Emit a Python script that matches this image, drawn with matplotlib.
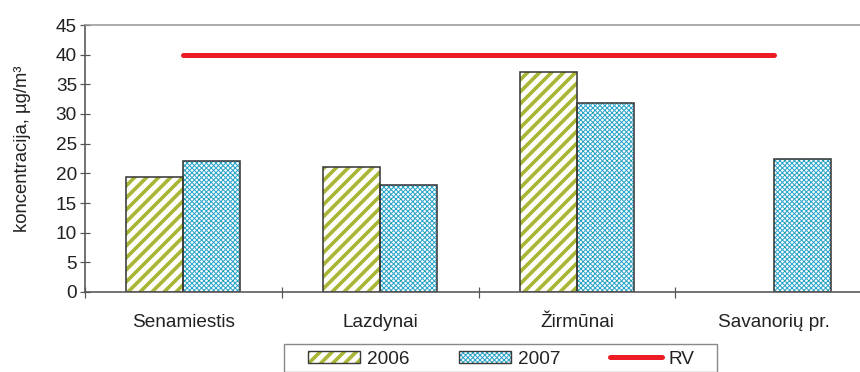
import numpy as np
import matplotlib
matplotlib.use("Agg")
import matplotlib.pyplot as plt
from matplotlib.patches import Patch, Rectangle
from matplotlib.lines import Line2D

# Measured concentrations per monitoring station
stations = ["Senamiestis", "Lazdynai", "Žirmūnai", "Savanorių pr."]
values_2006 = [19.4, 21.0, 37.1, np.nan]
values_2007 = [22.0, 18.0, 31.9, 22.4]
limit_value = 40
series_labels = ["2006", "2007", "RV"]
y_ticks = [0, 5, 10, 15, 20, 25, 30, 35, 40, 45]
y_label = "koncentracija, µg/m³"

DPI = 72
FS = 19
plt.rcParams["font.family"] = ["Liberation Sans", "DejaVu Sans"]

fig = plt.figure(figsize=(860 / DPI, 372 / DPI), dpi=DPI)
ax = fig.add_axes([85 / 860, 1 - 292 / 372, 787 / 860, 267 / 372])

x = np.arange(len(stations))
w = 0.29
green = "#a9b534"
blue = "#2ba3c8"
edge = "#3a3a3a"
styles = [(green, "//", 3.6), (blue, "xxxxx", 1.0)]
hatch_widths = {h: lw for _, h, lw in styles}


def set_hlw(patch, hlw):
    if hasattr(patch, "set_hatch_linewidth"):
        patch.set_hatch_linewidth(hlw)
    else:
        patch._hatch_linewidth = hlw


def hatched_bars(pos, vals, color, hatch, hlw):
    # pattern fill first (hatch takes the edge colour), then a dark outline
    plt.rcParams["hatch.linewidth"] = hlw
    bars = ax.bar(pos, vals, w, facecolor="white", edgecolor=color,
                  linewidth=0, hatch=hatch, zorder=2)
    for b in bars:
        set_hlw(b, hlw)
    ax.bar(pos, vals, w, fill=False, edgecolor=edge, linewidth=1.6, zorder=2.5)


hatched_bars(x - w / 2, values_2006, *styles[0])
hatched_bars(x + w / 2, values_2007, *styles[1])

ax.plot(x, [limit_value] * len(x), color="#ed1c24", linewidth=5,
        solid_capstyle="round", zorder=3)

ax.set_xlim(-0.5, len(stations) - 0.5)
ax.set_ylim(0, 45)
ax.set_yticks(y_ticks)
ax.set_xticks(x)
ax.set_xticklabels(stations, fontsize=FS, color="#222222")
ax.set_xticks(np.arange(-0.5, len(stations)), minor=True)
ax.tick_params(axis="x", which="major", length=0, pad=22)
ax.tick_params(axis="x", which="minor", direction="inout", length=11,
               width=1.2, color="#555555")
ax.tick_params(axis="y", direction="inout", length=10, width=1.2,
               color="#555555", labelsize=FS, labelcolor="#222222", pad=3)
ax.set_ylabel(y_label, fontsize=18.5, color="#222222")
ax.yaxis.set_label_coords(-0.069, 0.536)

for side in ("left", "bottom"):
    ax.spines[side].set_color("#555555")
    ax.spines[side].set_linewidth(1.6)
ax.spines["top"].set_color("#999999")
ax.spines["top"].set_linewidth(1.6)
ax.spines["right"].set_visible(False)

# Legend entries: pattern patch overlaid with an outline patch
handles = []
for color, hatch, hlw in styles:
    fill = Patch(facecolor="white", edgecolor=color, hatch=hatch, linewidth=0)
    outline = Patch(fill=False, edgecolor=edge, linewidth=1.4)
    handles.append((fill, outline))
handles.append(Line2D([0], [0], color="#ed1c24", linewidth=5,
                      solid_capstyle="round"))

leg = fig.legend(handles, series_labels, loc="center left",
                 bbox_to_anchor=(308 / 860, 1 - 359 / 372), ncol=3,
                 fontsize=FS, frameon=False, handlelength=52 / FS,
                 handleheight=12 / FS, handletextpad=7 / FS,
                 columnspacing=2.6, borderpad=0, borderaxespad=0)
for t in leg.get_texts():
    t.set_color("#222222")
for p in leg.findobj(Patch):
    h = p.get_hatch()
    if h in hatch_widths:
        set_hlw(p, hatch_widths[h])

# Legend box
fig.patches.append(Rectangle((284 / 860, 0 / 372), 433 / 860, 28 / 372,
                             transform=fig.transFigure, fill=False,
                             edgecolor="#888888", linewidth=1.4))

fig.savefig("out.png", dpi=DPI)
